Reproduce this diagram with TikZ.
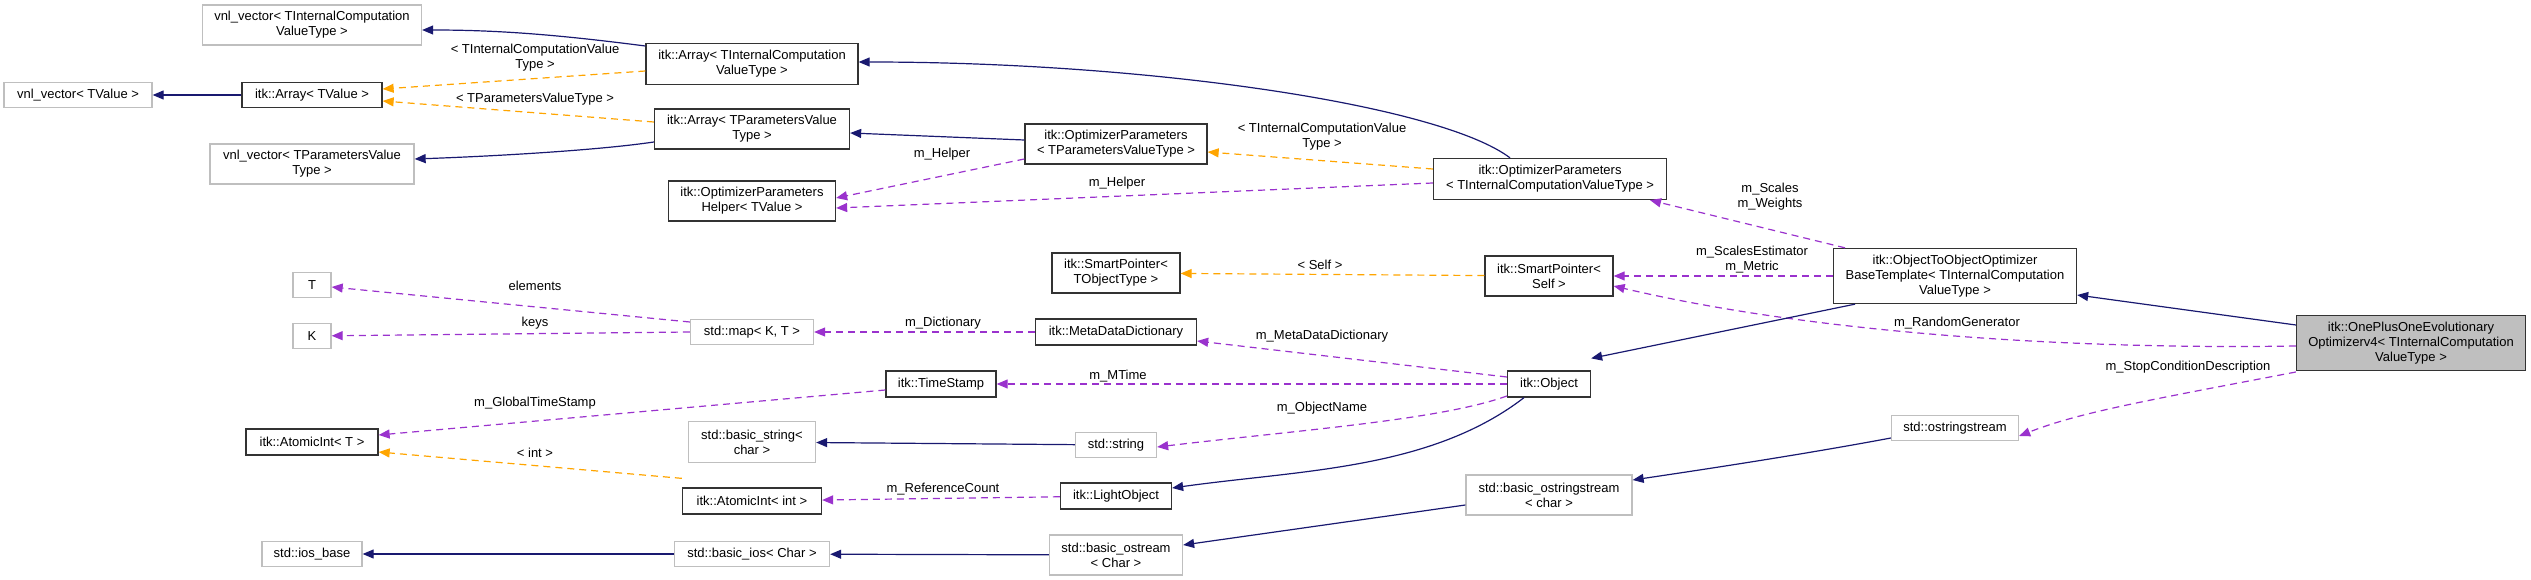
\documentclass[tikz,border=0pt]{standalone}
\usepackage{fontspec}
\setmainfont{Liberation Sans}
\usetikzlibrary{arrows.meta}
\definecolor{navy}{HTML}{191970}
\definecolor{purp}{HTML}{9A32CD}
\definecolor{orng}{HTML}{FFA500}
\definecolor{gbord}{HTML}{BFBFBF}
\begin{document}
\begin{tikzpicture}[x=1pt,y=-1pt,
  font=\fontsize{13}{15}\selectfont,
  box/.style={draw, line width=1.3pt, inner sep=2pt, align=center, fill=white},
  doc/.style={box, draw=black!80},
  undoc/.style={box, draw=gbord},
  inh/.style={-{Triangle[length=11pt,width=9pt,fill=navy]}, draw=navy, line width=1.2pt},
  use/.style={-{Triangle[length=11pt,width=9pt,fill=purp]}, draw=purp, line width=1.2pt, dash pattern=on 7pt off 5pt},
  tmpl/.style={-{Triangle[length=11pt,width=9pt,fill=orng]}, draw=orng, line width=1.2pt, dash pattern=on 7pt off 5pt},
  lbl/.style={inner sep=0pt, align=center}]
\useasboundingbox (0,0) rectangle (2531,580);
% nodes
\node[undoc, minimum width=219, minimum height=40] (vnlTIC) at (312,25) {vnl\_vector< TInternalComputation\\ValueType >};
\node[doc, minimum width=212, minimum height=41] (arrTIC) at (752,64) {itk::Array< TInternalComputation\\ValueType >};
\node[undoc, minimum width=148, minimum height=25] (vnlTV) at (78,95) {vnl\_vector< TValue >};
\node[doc, minimum width=140, minimum height=25] (arrTV) at (312,95) {itk::Array< TValue >};
\node[doc, minimum width=195, minimum height=40] (arrTPV) at (752,129) {itk::Array< TParametersValue\\Type >};
\node[undoc, minimum width=204, minimum height=40] (vnlTPV) at (312,164) {vnl\_vector< TParametersValue\\Type >};
\node[doc, minimum width=167, minimum height=40] (helper) at (752,201) {itk::OptimizerParameters\\Helper< TValue >};
\node[undoc, minimum width=38, minimum height=25] (T) at (312,285) {T};
\node[undoc, minimum width=38, minimum height=25] (K) at (312,336) {K};
\node[undoc, minimum width=123, minimum height=25] (map) at (752,332) {std::map< K, T >};
\node[doc, minimum width=132, minimum height=26] (atomT) at (312,442) {itk::AtomicInt< T >};
\node[undoc, minimum width=127, minimum height=41] (bstring) at (752,442) {std::basic\_string<\\char >};
\node[doc, minimum width=139, minimum height=26] (atomInt) at (752,501) {itk::AtomicInt< int >};
\node[undoc, minimum width=100, minimum height=25] (iosbase) at (312,554) {std::ios\_base};
\node[undoc, minimum width=155, minimum height=25] (bios) at (752,554) {std::basic\_ios< Char >};
\node[doc, minimum width=182, minimum height=40] (optTPV) at (1116,144) {itk::OptimizerParameters\\< TParametersValueType >};
\node[doc, minimum width=233, minimum height=41] (optTIC) at (1550,179) {itk::OptimizerParameters\\< TInternalComputationValueType >};
\node[doc, minimum width=128, minimum height=40] (spTObj) at (1116,273) {itk::SmartPointer<\\TObjectType >};
\node[doc, minimum width=128, minimum height=40] (spSelf) at (1549,276) {itk::SmartPointer<\\Self >};
\node[doc, minimum width=161, minimum height=26] (mdd) at (1116,332) {itk::MetaDataDictionary};
\node[doc, minimum width=110, minimum height=26] (ts) at (941,384) {itk::TimeStamp};
\node[doc, minimum width=83, minimum height=26] (obj) at (1549,384) {itk::Object};
\node[undoc, minimum width=81, minimum height=25] (str) at (1116,445) {std::string};
\node[doc, minimum width=111, minimum height=26] (light) at (1116,496) {itk::LightObject};
\node[undoc, minimum width=166, minimum height=40] (bostrs) at (1549,495) {std::basic\_ostringstream\\< char >};
\node[undoc, minimum width=133, minimum height=40] (bostr) at (1116,555) {std::basic\_ostream\\< Char >};
\node[doc, minimum width=243, minimum height=55] (otoo) at (1955,276) {itk::ObjectToObjectOptimizer\\BaseTemplate< TInternalComputation\\ValueType >};
\node[doc, fill=black!25, minimum width=229, minimum height=55] (opo) at (2411,343) {itk::OnePlusOneEvolutionary\\Optimizerv4< TInternalComputation\\ValueType >};
\node[undoc, minimum width=127, minimum height=25] (oss) at (1955,428) {std::ostringstream};
% edges
\draw[inh] ([yshift=18pt]arrTIC.west) .. controls (560,35) and (500,30) .. ([yshift=-5pt]vnlTIC.east);
\draw[tmpl] ([yshift=-7pt]arrTIC.west) -- ([yshift=6pt]arrTV.east);
\draw[tmpl] ([yshift=7pt]arrTPV.west) -- ([yshift=-6pt]arrTV.east);
\draw[inh] ([yshift=-13pt]arrTPV.west) .. controls (600,150) and (500,156) .. ([yshift=5pt]vnlTPV.east);
\draw[inh] (arrTV) -- (vnlTV);
\draw[inh] ([xshift=-40pt]optTIC.north) .. controls (1440,105) and (1150,62) .. ([yshift=2pt]arrTIC.east);
\draw[inh] ([yshift=4pt]optTPV.west) -- ([yshift=-4pt]arrTPV.east);
\draw[use] ([yshift=-15pt]optTPV.west) -- ([yshift=3pt]helper.east);
\draw[use] ([yshift=-4pt]optTIC.west) -- ([yshift=-7pt]helper.east);
\draw[tmpl] ([yshift=10pt]optTIC.west) -- ([yshift=-8pt]optTPV.east);
\draw[tmpl] (spSelf) -- (spTObj);
\draw[inh] (opo.west |- 0,325) -- ([yshift=-19pt]otoo.east);
\draw[use] (opo.west |- 0,346) .. controls (2050,350) and (1800,330) .. ([yshift=-10pt]spSelf.east);
\draw[use] (opo.west |- 0,372) .. controls (2150,400) and (2080,412) .. ([yshift=-8pt]oss.east);
\draw[use] ([xshift=-110pt]otoo.north) -- ([xshift=100pt]optTIC.south);
\draw[use] (otoo.west |- 0,276) -- (spSelf.east |- 0,276);
\draw[inh] ([xshift=-100pt]otoo.south) -- ([yshift=12pt]obj.north east);
\draw[inh] ([yshift=-10pt]oss.west) .. controls (1800,455) and (1700,470) .. ([yshift=15pt]bostrs.east);
\draw[inh] ([yshift=-10pt]bostrs.west) -- ([yshift=10pt]bostr.east);
\draw[inh] (bostr) -- (bios);
\draw[inh] (bios) -- (iosbase);
\draw[use] ([yshift=7pt]obj.west) -- ([yshift=-9pt]mdd.east);
\draw[use] (obj) -- (ts);
\draw[use] ([yshift=-12pt]obj.west) .. controls (1440,420) and (1300,430) .. ([yshift=-2pt]str.east);
\draw[inh] ([xshift=-25pt]obj.south) .. controls (1430,470) and (1300,470) .. ([yshift=8pt]light.east);
\draw[use] (light) -- (atomInt);
\draw[tmpl] ([yshift=9pt]atomInt.north west) -- ([yshift=-10pt]atomT.east);
\draw[inh] (str) -- (bstring);
\draw[use] ([yshift=-6pt]ts.west) -- ([yshift=7pt]atomT.east);
\draw[use] (mdd) -- (map);
\draw[use] ([yshift=10pt]map.west) -- ([yshift=-2pt]T.east);
\draw[use] (map.west) -- (K);
% labels
\node[lbl] (l1) at (535,58) {< TInternalComputationValue\\Type >};
\node[lbl] (l2) at (535,99) {< TParametersValueType >};
\node[lbl] (l3) at (942,154) {m\_Helper};
\node[lbl] (l4) at (1117,183) {m\_Helper};
\node[lbl] (l5) at (1322,137) {< TInternalComputationValue\\Type >};
\node[lbl] (l6) at (1320,265) {< Self >};
\node[lbl] (l7) at (1770,197) {m\_Scales\\m\_Weights};
\node[lbl] (l8) at (1752,260) {m\_ScalesEstimator\\m\_Metric};
\node[lbl] (l9) at (1957,323) {m\_RandomGenerator};
\node[lbl] (l10) at (2188,367) {m\_StopConditionDescription};
\node[lbl] (l11) at (535,286) {elements};
\node[lbl] (l12) at (535,323) {keys};
\node[lbl] (l13) at (535,403) {m\_GlobalTimeStamp};
\node[lbl] (l14) at (535,453) {< int >};
\node[lbl] (l15) at (943,323) {m\_Dictionary};
\node[lbl] (l16) at (1322,336) {m\_MetaDataDictionary};
\node[lbl] (l17) at (1118,376) {m\_MTime};
\node[lbl] (l18) at (1322,408) {m\_ObjectName};
\node[lbl] (l19) at (943,489) {m\_ReferenceCount};
\end{tikzpicture}
\end{document}
